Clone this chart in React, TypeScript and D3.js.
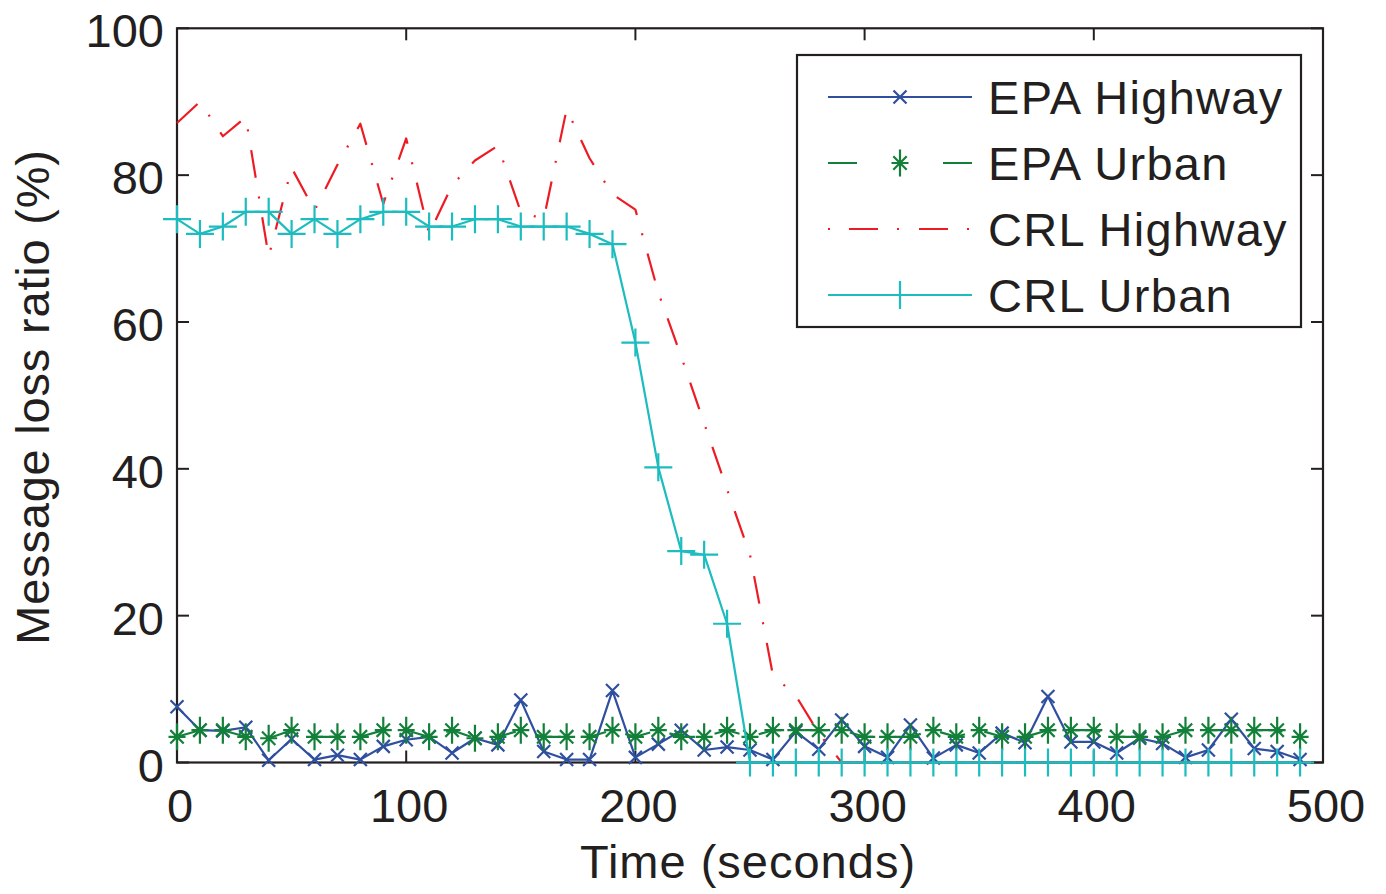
import React, { useEffect, useRef } from 'react';
import * as d3 from 'd3';

// time axis (seconds)
const times = [
  0, 10, 20, 30, 40, 50, 60, 70, 80, 90,
  100, 110, 120, 130, 140, 150, 160, 170, 180, 190,
  200, 210, 220, 230, 240, 250, 260, 270, 280, 290,
  300, 310, 320, 330, 340, 350, 360, 370, 380, 390,
  400, 410, 420, 430, 440, 450, 460, 470, 480, 490,
];

const epaHighway = [
  7.6, 4.4, 4.3, 4.8, 0.3, 3.2, 0.4, 1.0, 0.4, 2.2,
  3.1, 3.5, 1.3, 3.3, 2.4, 8.5, 1.5, 0.4, 0.4, 9.8,
  0.7, 2.5, 4.4, 1.7, 2.1, 1.7, 0.4, 4.2, 1.8, 5.8,
  2.2, 0.7, 5.1, 0.6, 2.4, 1.3, 4.0, 2.7, 9.0, 2.8,
  2.8, 1.3, 3.3, 2.6, 0.7, 1.7, 5.9, 1.9, 1.5, 0.4,
];

const epaUrban = [
  3.5, 4.4, 4.4, 3.5, 3.3, 4.4, 3.5, 3.5, 3.5, 4.4,
  4.4, 3.5, 4.4, 3.3, 3.5, 4.4, 3.5, 3.5, 3.5, 4.4,
  3.5, 4.4, 3.5, 3.5, 4.4, 3.5, 4.4, 4.4, 4.4, 4.4,
  3.5, 3.5, 3.5, 4.4, 3.5, 4.4, 3.5, 3.5, 4.4, 4.4,
  4.4, 3.5, 3.5, 3.5, 4.4, 4.4, 4.4, 4.4, 4.4, 3.5,
];

const crlHighway = [
  87.1, 90, 85.3, 87.9, 68.9, 81, 75.2, 81.4, 87, 76.1,
  85, 72, 78.6, 82, 84, 75, 74, 89, 82.3, 77.4,
  75.3, 64, 55.3, 46.2, 37.2, 28.3, 11.9, 9.1, 4, 0,
  0, 0, 0, 0, 0, 0, 0, 0, 0, 0,
  0, 0, 0, 0, 0, 0, 0, 0, 0, 0,
];

const crlUrban = [
  74, 72, 73, 75, 75, 72, 74, 72, 74, 75,
  75, 73, 73, 74, 74, 73, 73, 73, 72, 70.6,
  57.2, 40.2, 28.8, 28.3, 18.9, 0, 0, 0, 0, 0,
  0, 0, 0, 0, 0, 0, 0, 0, 0, 0,
  0, 0, 0, 0, 0, 0, 0, 0, 0, 0,
];

const xTicks = [0, 100, 200, 300, 400, 500];
const yTicks = [0, 20, 40, 60, 80, 100];

// marker path generators (centered at 0,0)
const markerPaths = {
  x: 'M-6.5,-6.5L6.5,6.5M-6.5,6.5L6.5,-6.5',
  star: 'M0,-13.5L0,13.5M-8.5,0L8.5,0M-6.7,-6.7L6.7,6.7M-6.7,6.7L6.7,-6.7',
  plus: 'M-14,0L14,0M0,-14L0,14',
};

const series = [
  { name: 'EPA Highway', values: epaHighway, color: '#2f4f9f', dash: null, legendDash: null, marker: 'x' },
  { name: 'EPA Urban', values: epaUrban, color: '#138039', dash: '26,20', legendDash: '29,86,29', marker: 'star' },
  { name: 'CRL Highway', values: crlHighway, color: '#ed1c24', dash: '28,19,2,19', legendDash: '2,19,29,19,2,20,29,19,2,10', marker: null },
  { name: 'CRL Urban', values: crlUrban, color: '#1cbcbf', dash: null, legendDash: null, marker: 'plus' },
];

const App = () => {
  const svgRef = useRef(null);

  useEffect(() => {
    const svg = d3.select(svgRef.current);
    svg.selectAll('*').remove();

    const W = 1386;
    const H = 894;
    const left = 177, right = 1323, top = 28.3, bottom = 762.5;
    const ink = '#231f20';
    const font = '"Liberation Sans", Arial, Helvetica, sans-serif';

    const x = d3.scaleLinear().domain([0, 500]).range([left, right]);
    const y = d3.scaleLinear().domain([0, 100]).range([bottom, top]);

    svg.attr('width', W).attr('height', H);
    svg.append('rect').attr('width', W).attr('height', H).attr('fill', 'white');

    // axes box
    svg.append('rect')
      .attr('x', left).attr('y', top)
      .attr('width', right - left).attr('height', bottom - top)
      .attr('fill', 'none').attr('stroke', ink).attr('stroke-width', 2.2);

    const tickLen = 12;
    const ticks = svg.append('g').attr('stroke', ink).attr('stroke-width', 2);
    xTicks.forEach(t => {
      ticks.append('line').attr('x1', x(t)).attr('x2', x(t)).attr('y1', bottom).attr('y2', bottom - tickLen);
      ticks.append('line').attr('x1', x(t)).attr('x2', x(t)).attr('y1', top).attr('y2', top + tickLen);
    });
    yTicks.forEach(t => {
      ticks.append('line').attr('x1', left).attr('x2', left + tickLen).attr('y1', y(t)).attr('y2', y(t));
      ticks.append('line').attr('x1', right).attr('x2', right - tickLen).attr('y1', y(t)).attr('y2', y(t));
    });

    // tick labels
    const labels = svg.append('g')
      .style('font-family', font)
      .style('font-size', '47px')
      .attr('fill', ink);
    xTicks.forEach(t => {
      labels.append('text')
        .attr('x', x(t) + 3)
        .attr('y', 821.5)
        .attr('text-anchor', 'middle')
        .text(t);
    });
    yTicks.forEach(t => {
      labels.append('text')
        .attr('x', 164)
        .attr('y', y(t) + 19)
        .attr('text-anchor', 'end')
        .text(t);
    });

    // axis titles
    svg.append('text')
      .attr('x', 748)
      .attr('y', 878)
      .attr('text-anchor', 'middle')
      .style('font-family', font)
      .style('font-size', '47px')
      .style('letter-spacing', '1px')
      .attr('fill', ink)
      .text('Time (seconds)');

    svg.append('text')
      .attr('transform', `translate(49,397) rotate(-90)`)
      .attr('text-anchor', 'middle')
      .style('font-family', font)
      .style('font-size', '47px')
      .style('letter-spacing', '0.8px')
      .attr('fill', ink)
      .text('Message loss ratio (%)');

    // data
    const line = d3.line()
      .x((d, i) => x(times[i]))
      .y(d => y(d));

    series.forEach(s => {
      const g = svg.append('g');
      g.append('path')
        .datum(s.values)
        .attr('d', line)
        .attr('fill', 'none')
        .attr('stroke', s.color)
        .attr('stroke-width', 2.2)
        .attr('stroke-dasharray', s.dash)
        .attr('stroke-linejoin', 'round');

      if (s.marker) {
        g.selectAll('.mk')
          .data(s.values)
          .enter()
          .append('path')
          .attr('class', 'mk')
          .attr('transform', (d, i) => `translate(${x(times[i])},${y(d)})`)
          .attr('d', markerPaths[s.marker])
          .attr('fill', 'none')
          .attr('stroke', s.color)
          .attr('stroke-width', 2.2);
      }
    });

    // legend
    const legend = svg.append('g');
    legend.append('rect')
      .attr('x', 797).attr('y', 55)
      .attr('width', 504).attr('height', 272)
      .attr('fill', 'white')
      .attr('stroke', ink)
      .attr('stroke-width', 2.2);

    series.forEach((s, i) => {
      const cy = 97 + i * 66;
      const item = legend.append('g');
      item.append('line')
        .attr('x1', 828).attr('x2', 972)
        .attr('y1', cy).attr('y2', cy)
        .attr('stroke', s.color)
        .attr('stroke-width', 2.2)
        .attr('stroke-dasharray', s.legendDash);
      if (s.marker) {
        item.append('path')
          .attr('transform', `translate(900,${cy})`)
          .attr('d', markerPaths[s.marker])
          .attr('fill', 'none')
          .attr('stroke', s.color)
          .attr('stroke-width', 2.2);
      }
      item.append('text')
        .attr('x', 988)
        .attr('y', cy + 17)
        .style('font-family', font)
        .style('font-size', '47px')
        .style('letter-spacing', '1.3px')
        .attr('fill', ink)
        .text(s.name);
    });
  }, []);

  return (
    <div style={{ position: 'absolute', left: 0, top: 0 }}>
      <svg ref={svgRef}></svg>
    </div>
  );
};

export default App;
